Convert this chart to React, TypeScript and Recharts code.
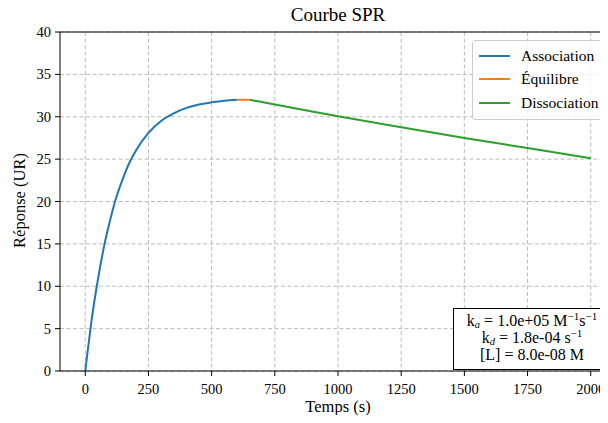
import React from 'react';
import {
  LineChart,
  Line,
  XAxis,
  YAxis,
  CartesianGrid,
  ReferenceLine,
} from 'recharts';

// Association phase (t in s, response in UR)
const assocTimes = [0, 10, 25, 50, 75, 100, 125, 150, 175, 200, 250, 300, 350, 400, 450, 500, 550, 600];
const assocValues = [0, 2.5, 6.0, 10.8, 14.8, 18.0, 20.7, 22.8, 24.6, 26.0, 28.1, 29.5, 30.4, 31.05, 31.45, 31.7, 31.9, 32.0];

// Equilibrium plateau
const equilTimes = [600, 650];
const equilValues = [32.0, 32.0];

// Dissociation phase
const dissocTimes = [650, 750, 1000, 1250, 1500, 1750, 2000];
const dissocValues = [32.0, 31.45, 30.05, 28.75, 27.5, 26.3, 25.1];

const xTicks = [0, 250, 500, 750, 1000, 1250, 1500, 1750, 2000];
const yTicks = [0, 5, 10, 15, 20, 25, 30, 35, 40];

const seriesNames = ['Association', 'Équilibre', 'Dissociation'];
const seriesColors = ['#1f77b4', '#ff7f0e', '#2ca02c'];

const toPoints = (times: number[], values: number[]) =>
  times.map((t, i) => ({ t, r: values[i] }));

const assocData = toPoints(assocTimes, assocValues);
const equilData = toPoints(equilTimes, equilValues);
const dissocData = toPoints(dissocTimes, dissocValues);

const FONT = '"Liberation Serif", "DejaVu Serif", serif';

// tick renderers so the serif font is really applied
const XTick = (props: any) => {
  const { x, y, payload } = props;
  return (
    <text x={x} y={y + 14} textAnchor="middle" fill="#000" fontSize={14.5} fontFamily={FONT}>
      {payload.value}
    </text>
  );
};

const YTick = (props: any) => {
  const { x, y, payload } = props;
  return (
    <text x={x} y={y + 5} textAnchor="end" fill="#000" fontSize={14.5} fontFamily={FONT}>
      {payload.value}
    </text>
  );
};

const supStyle: React.CSSProperties = {
  fontSize: 11,
  verticalAlign: 'baseline',
  lineHeight: 0,
  position: 'relative',
  top: -6,
};
const subStyle: React.CSSProperties = {
  fontStyle: 'italic',
  fontSize: 10.5,
  verticalAlign: 'baseline',
  lineHeight: 0,
  position: 'relative',
  top: 2,
};
const eq = <span style={{ margin: '0 4px' }}>=</span>;

const App: React.FC = () => {
  return (
    <div
      style={{
        position: 'relative',
        width: 608,
        height: 423,
        overflow: 'hidden',
        margin: -8,
        background: '#fff',
        fontFamily: FONT,
      }}
    >
      <LineChart
        width={630}
        height={423}
        margin={{ top: 32, right: 14, left: 0, bottom: 0 }}
      >
        <CartesianGrid
          stroke="#bbbbbb"
          strokeDasharray="4 2.5"
          horizontalValues={yTicks}
          verticalValues={xTicks}
        />
        <XAxis
          type="number"
          dataKey="t"
          domain={[-100, 2100]}
          ticks={xTicks}
          allowDataOverflow
          height={52}
          tickSize={5}
          tickMargin={4}
          tick={<XTick />}
          axisLine={{ stroke: '#000', strokeWidth: 1 }}
          tickLine={{ stroke: '#000' }}
        />
        <YAxis
          type="number"
          domain={[0, 40]}
          ticks={yTicks}
          allowDataOverflow
          width={60}
          tickSize={5}
          tickMargin={4}
          tick={<YTick />}
          axisLine={{ stroke: '#000', strokeWidth: 1 }}
          tickLine={{ stroke: '#000' }}
        />
        <ReferenceLine y={40} stroke="#000" strokeWidth={1} ifOverflow="visible" />
        <Line
          data={assocData}
          dataKey="r"
          name={seriesNames[0]}
          type="monotone"
          stroke={seriesColors[0]}
          strokeWidth={2}
          dot={false}
          isAnimationActive={false}
        />
        <Line
          data={equilData}
          dataKey="r"
          name={seriesNames[1]}
          type="linear"
          stroke={seriesColors[1]}
          strokeWidth={2}
          dot={false}
          isAnimationActive={false}
        />
        <Line
          data={dissocData}
          dataKey="r"
          name={seriesNames[2]}
          type="monotone"
          stroke={seriesColors[2]}
          strokeWidth={2}
          dot={false}
          isAnimationActive={false}
        />
        {/* Title */}
        <text x={338} y={21} textAnchor="middle" fill="#000" fontSize={19} fontFamily={FONT}>
          Courbe SPR
        </text>
      </LineChart>

      {/* Legend */}
      <div
        style={{
          position: 'absolute',
          top: 40,
          left: 472,
          width: 120,
          border: '1px solid #cccccc',
          borderRadius: 3,
          background: 'rgba(255,255,255,0.8)',
          padding: '3px 6px 4px 6px',
          fontSize: 15.5,
          fontFamily: FONT,
          zIndex: 5,
        }}
      >
        {seriesNames.map((name, i) => (
          <div key={name} style={{ display: 'flex', alignItems: 'center', height: 23.5, whiteSpace: 'nowrap' }}>
            <div style={{ width: 31, height: 2, background: seriesColors[i], marginRight: 11, flexShrink: 0 }} />
            <span style={{ fontFamily: FONT }}>{name}</span>
          </div>
        ))}
      </div>

      {/* Axis labels */}
      <div
        style={{
          position: 'absolute',
          top: 397,
          left: 238,
          width: 200,
          textAlign: 'center',
          fontSize: 16.5,
          lineHeight: '19px',
          fontFamily: FONT,
        }}
      >
        Temps (s)
      </div>
      <div
        style={{
          position: 'absolute',
          top: 191,
          left: -41,
          width: 120,
          textAlign: 'center',
          fontSize: 16.5,
          lineHeight: '19px',
          fontFamily: FONT,
          transform: 'rotate(-90deg)',
        }}
      >
        Réponse (UR)
      </div>

      {/* Parameter box */}
      <div
        style={{
          position: 'absolute',
          top: 308,
          left: 453,
          width: 156,
          height: 57,
          border: '1.5px solid #000',
          background: '#fff',
          fontSize: 16,
          lineHeight: '17px',
          textAlign: 'center',
          padding: '3px 0 0 0',
          whiteSpace: 'nowrap',
          fontFamily: FONT,
          zIndex: 5,
        }}
      >
        <div>
          k<sub style={subStyle}>a</sub>
          {eq}1.0e+05 M<sup style={supStyle}>−1</sup>s<sup style={supStyle}>−1</sup>
        </div>
        <div>
          k<sub style={subStyle}>d</sub>
          {eq}1.8e-04 s<sup style={supStyle}>−1</sup>
        </div>
        <div>
          [L]{eq}8.0e-08 M
        </div>
      </div>
    </div>
  );
};

export default App;
